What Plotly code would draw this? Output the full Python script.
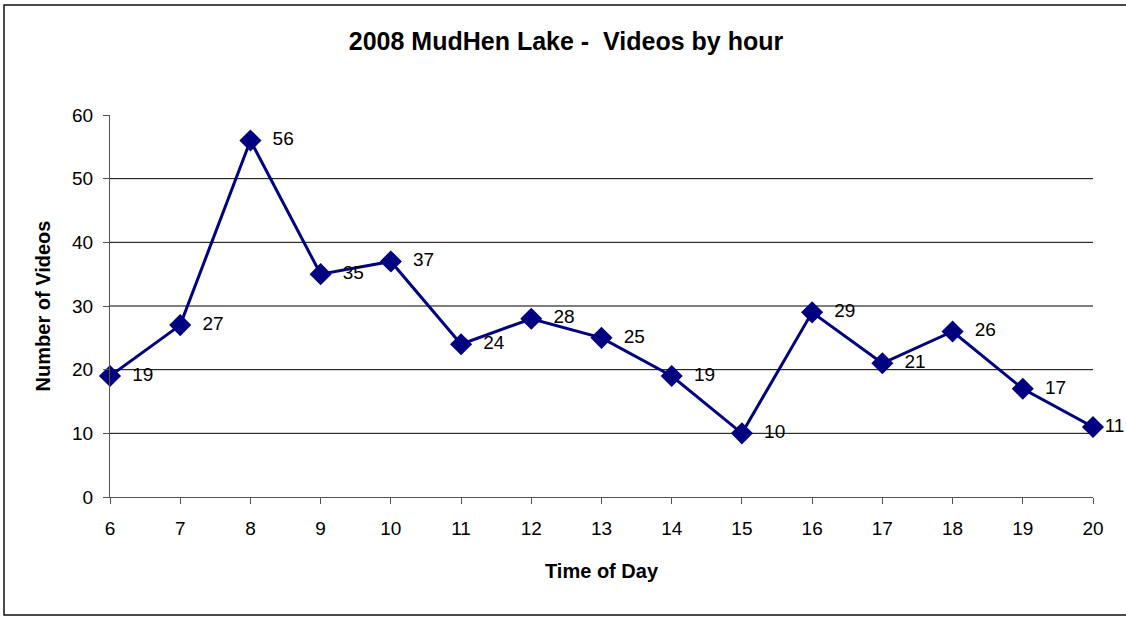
import plotly.graph_objects as go

hours = [6, 7, 8, 9, 10, 11, 12, 13, 14, 15, 16, 17, 18, 19, 20]
videos = [19, 27, 56, 35, 37, 24, 28, 25, 19, 10, 29, 21, 26, 17, 11]
grid_values = [10, 20, 30, 40, 50]
y_ticks = [0, 10, 20, 30, 40, 50, 60]

title_text = "2008 MudHen Lake -  Videos by hour"
x_title = "Time of Day"
y_title = "Number of Videos"

W, H = 1126, 618
L, R, T, B = 110, 1093, 115, 497
FONT = "Arial, Liberation Sans"

# data labels: the last one sits tight against its marker (as in the reference)
labels = [f"  {v}" for v in videos[:-1]] + [f"{videos[-1]}"]

fig = go.Figure()
fig.add_trace(go.Scatter(
    x=hours, y=videos,
    mode="lines+markers+text",
    line=dict(color="#000080", width=3),
    marker=dict(symbol="diamond", size=17, color="#000080"),
    text=labels,
    textposition="middle right",
    textfont=dict(family=FONT, size=19, color="black"),
    cliponaxis=False,
    showlegend=False,
    hoverinfo="x+y",
))

for g in grid_values:
    fig.add_shape(type="line", xref="paper", yref="y", x0=0, x1=1, y0=g, y1=g,
                  line=dict(color="black", width=1), layer="below")

pw, ph = R - L, B - T
fig.add_shape(type="rect", xref="paper", yref="paper",
              x0=(4 - L) / pw, x1=(1140 - L) / pw,
              y0=(B - 615) / ph, y1=(B - 5) / ph,
              line=dict(color="#111111", width=1.5), layer="below")

fig.update_layout(
    width=W, height=H,
    margin=dict(l=L, r=W - R, t=T, b=H - B),
    paper_bgcolor="white", plot_bgcolor="white",
    font=dict(family=FONT, size=19, color="black"),
    title=dict(text=f"<b>{title_text}</b>", xref="paper", xanchor="center",
               x=(566 - L) / pw,
               y=1 - 41 / H, yanchor="middle",
               font=dict(size=25, family=FONT)),
)
fig.update_xaxes(
    range=[6, 20], tickvals=hours, showgrid=False, zeroline=False,
    showline=True, linecolor="#555555", linewidth=1,
    ticks="outside", ticklen=6, tickcolor="#555555", ticklabelstandoff=8,
    title=dict(text=f"<b>{x_title}</b>", font=dict(size=20), standoff=26),
)
fig.update_yaxes(
    range=[0, 60], tickvals=y_ticks, showgrid=False, zeroline=False,
    showline=True, linecolor="#555555", linewidth=1,
    ticks="outside", ticklen=6, tickcolor="#555555", ticklabelstandoff=6,
    title=dict(text=f"<b>{y_title}</b>", font=dict(size=20), standoff=16),
)

fig.write_html("out.html", config={"displayModeBar": False},
               post_script="document.body.style.margin='0';")
